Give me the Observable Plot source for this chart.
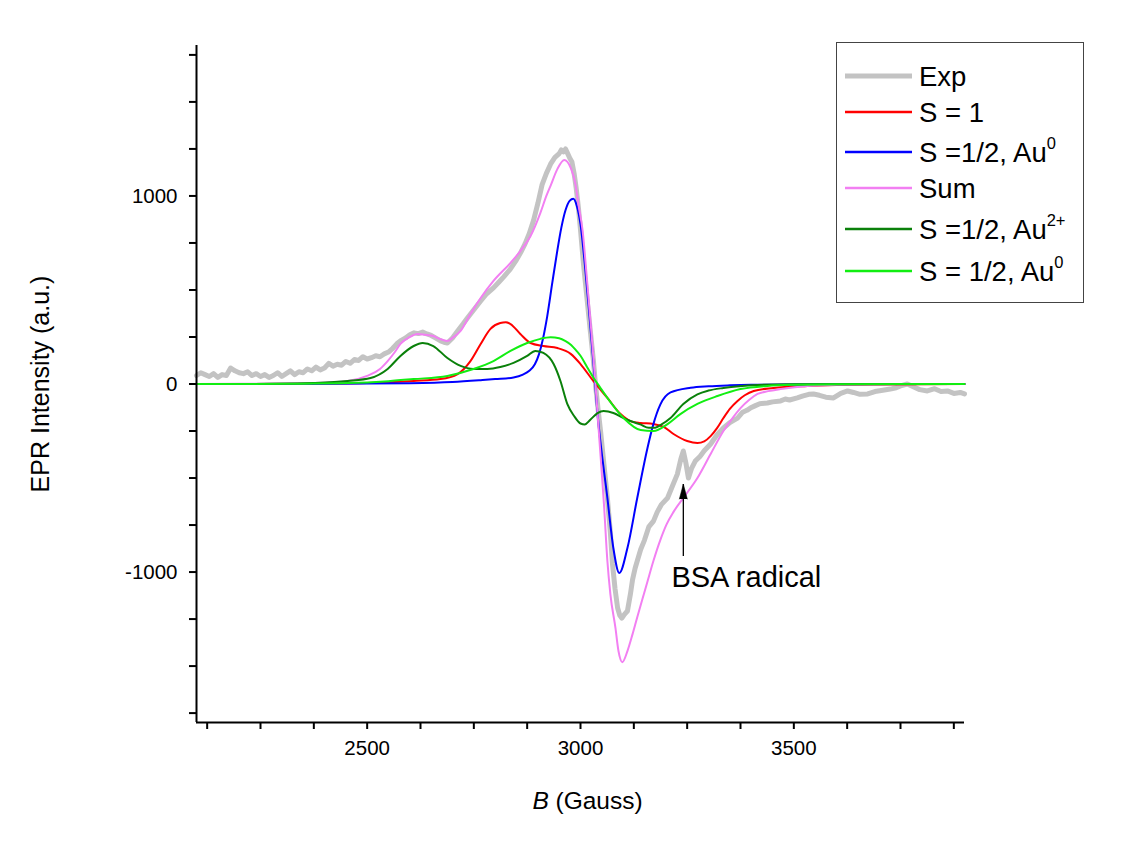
<!DOCTYPE html>
<html><head><meta charset="utf-8">
<script src="https://cdn.jsdelivr.net/npm/d3@7"></script>
<script src="https://cdn.jsdelivr.net/npm/@observablehq/plot@0.6"></script>
<style>
html,body{margin:0;padding:0;background:#fff;}
#wrap{position:relative;width:1123px;height:859px;font-family:"Liberation Sans",Arial,sans-serif;}
#wrap svg{display:block;}
#legend{position:absolute;left:0;top:0;pointer-events:none;}
</style></head><body><div id="wrap"></div>
<script>
// ---- data (field B in Gauss, EPR intensity in a.u.) ----
const expCurve = [[2100,45],[2110,60],[2120,50],[2130,40],[2140,55],[2150,35],[2160,50],[2170,45],[2180,85],[2190,70],[2200,60],[2210,55],[2220,65],[2230,45],[2240,55],[2250,40],[2260,50],[2270,35],[2280,45],[2290,60],[2300,40],[2310,55],[2320,70],[2330,50],[2340,65],[2350,60],[2360,80],[2370,70],[2380,90],[2390,75],[2400,85],[2410,110],[2420,95],[2430,105],[2440,100],[2450,120],[2460,110],[2470,130],[2480,125],[2490,145],[2500,133],[2510,140],[2520,150],[2530,145],[2540,160],[2550,170],[2560,190],[2570,215],[2580,232],[2590,245],[2600,262],[2610,272],[2620,268],[2630,276],[2640,266],[2650,258],[2660,245],[2672,229],[2680,222],[2688,218],[2700,245],[2712,282],[2725,320],[2735,351],[2750,395],[2766,441],[2780,480],[2796,511],[2810,545],[2820,570],[2835,610],[2850,660],[2860,700],[2870,745],[2880,800],[2890,870],[2900,960],[2910,1060],[2920,1120],[2930,1170],[2940,1205],[2950,1225],[2955,1245],[2960,1235],[2965,1250],[2970,1225],[2975,1200],[2980,1180],[2985,1120],[2990,1040],[2995,940],[3000,820],[3007,638],[3015,460],[3023,282],[3030,130],[3035,0],[3041,-130],[3047,-250],[3055,-430],[3063,-606],[3070,-790],[3075,-957],[3081,-1090],[3087,-1191],[3092,-1230],[3097,-1245],[3103,-1225],[3110,-1207],[3117,-1117],[3122,-1040],[3128,-980],[3133,-941],[3141,-880],[3150,-830],[3160,-760],[3171,-729],[3180,-680],[3190,-640],[3204,-606],[3215,-545],[3227,-479],[3235,-400],[3241,-356],[3247,-420],[3253,-500],[3260,-450],[3269,-410],[3280,-385],[3290,-355],[3305,-319],[3320,-270],[3335,-234],[3350,-205],[3368,-181],[3380,-150],[3390,-140],[3398,-128],[3410,-115],[3420,-105],[3438,-101],[3450,-95],[3469,-90],[3480,-80],[3490,-85],[3508,-74],[3520,-65],[3535,-55],[3546,-53],[3560,-60],[3575,-70],[3593,-74],[3610,-50],[3626,-37],[3640,-45],[3655,-55],[3673,-53],[3690,-40],[3705,-35],[3726,-27],[3740,-20],[3750,-10],[3766,0],[3780,-15],[3795,-30],[3813,-37],[3830,-25],[3845,-40],[3860,-37],[3875,-50],[3890,-45],[3900,-53]];

const s1Curve = [[2100,0],[2400,2],[2500,5],[2609,16],[2672,26],[2712,53],[2742,122],[2766,213],[2789,293],[2812,324],[2825,328],[2836,319],[2859,266],[2883,218],[2913,202],[2946,191],[2977,160],[3000,106],[3030,16],[3063,-74],[3094,-160],[3120,-200],[3141,-207],[3171,-213],[3195,-228],[3218,-266],[3250,-303],[3274,-314],[3290,-305],[3305,-277],[3320,-235],[3335,-181],[3350,-132],[3368,-90],[3385,-60],[3406,-37],[3452,-21],[3532,-10],[3600,-5],[3700,-2],[3900,0]];

const au0Curve = [[2100,0],[2400,1],[2600,4],[2700,10],[2766,20],[2800,26],[2843,35],[2865,50],[2880,70],[2893,105],[2903,160],[2912,240],[2922,360],[2934,540],[2945,700],[2955,830],[2965,925],[2975,975],[2983,985],[2991,950],[3000,850],[3010,640],[3020,390],[3030,120],[3040,-160],[3063,-606],[3077,-872],[3091,-1005],[3110,-872],[3133,-606],[3157,-340],[3170,-220],[3187,-110],[3211,-45],[3258,-20],[3300,-12],[3350,-7],[3400,-4],[3500,-2],[3600,-1],[3900,0]];

const sumCurve = [[2100,0],[2200,1],[2300,3],[2374,5],[2454,16],[2500,43],[2530,80],[2548,122],[2565,170],[2578,213],[2600,250],[2618,266],[2635,262],[2655,255],[2670,240],[2688,229],[2700,245],[2719,282],[2742,372],[2766,457],[2796,548],[2836,644],[2859,707],[2883,787],[2906,910],[2920,1000],[2930,1055],[2946,1144],[2962,1191],[2977,1149],[2988,1064],[2995,957],[3005,814],[3015,560],[3025,290],[3035,0],[3045,-320],[3055,-640],[3063,-941],[3070,-1117],[3082,-1298],[3089,-1420],[3098,-1479],[3110,-1420],[3122,-1330],[3133,-1240],[3145,-1145],[3157,-1050],[3171,-940],[3187,-830],[3202,-745],[3218,-680],[3241,-606],[3274,-500],[3305,-372],[3335,-250],[3355,-185],[3375,-128],[3395,-85],[3415,-53],[3440,-38],[3469,-27],[3532,-10],[3600,-4],[3700,-1],[3900,0]];

const au2Curve = [[2100,0],[2300,1],[2374,5],[2454,16],[2508,32],[2548,80],[2578,149],[2609,202],[2630,218],[2655,202],[2688,138],[2719,96],[2749,80],[2782,80],[2812,90],[2843,112],[2875,149],[2894,176],[2913,165],[2937,106],[2953,16],[2969,-106],[2985,-170],[3000,-210],[3010,-215],[3023,-190],[3040,-155],[3054,-144],[3077,-154],[3100,-180],[3117,-197],[3140,-215],[3160,-233],[3175,-232],[3190,-215],[3211,-181],[3241,-106],[3274,-55],[3300,-35],[3335,-21],[3415,-5],[3500,-1],[3900,0]];

const au0bCurve = [[2100,0],[2300,1],[2454,5],[2550,15],[2609,26],[2688,43],[2749,80],[2796,122],[2836,176],[2875,218],[2906,240],[2930,248],[2950,243],[2965,228],[2978,208],[2990,178],[3000,150],[3015,92],[3030,35],[3045,-15],[3063,-74],[3101,-181],[3141,-245],[3171,-250],[3204,-213],[3234,-160],[3274,-106],[3321,-64],[3375,-27],[3438,-10],[3500,-4],[3600,-1],[3900,0]];

const xTicks = d3.range(2125, 3900, 125);
const xTickLabels = [2500, 3000, 3500];
const yTicks = d3.range(-1750, 1751, 250);
const yTickLabels = [-1000, 0, 1000];

const annotation = {b: 3241, tail: -915, tip: -532, text: "BSA radical", textB: 3213, textI: -1032};

const series = [
  {name: "Exp", sup: "", data: expCurve, color: "#c3c3c3", width: 5},
  {name: "S = 1", sup: "", data: s1Curve, color: "#ff0000", width: 2},
  {name: "S =1/2, Au", sup: "0", data: au0Curve, color: "#0000ff", width: 2},
  {name: "Sum", sup: "", data: sumCurve, color: "#f27ff2", width: 2},
  {name: "S =1/2, Au", sup: "2+", data: au2Curve, color: "#0a800a", width: 2},
  {name: "S = 1/2, Au", sup: "0", data: au0bCurve, color: "#12ee12", width: 2}
];

const toRows = arr => arr.map(([b, v]) => ({b, v}));
const font = "Liberation Sans, Arial, sans-serif";

const lineMarks = series.map((s, i) => Plot.line(toRows(s.data), {
  x: "b", y: "v", stroke: s.color, strokeWidth: s.width,
  curve: i === 0 ? "linear" : "monotone-x", strokeLinejoin: "round"
}));

const plot = Plot.plot({
  width: 1123, height: 859,
  marginLeft: 196, marginRight: 159, marginTop: 45, marginBottom: 137,
  x: {domain: [2100, 3900]},
  y: {domain: [-1800, 1800]},
  style: {fontFamily: font, background: "white", color: "black", overflow: "visible"},
  marks: [
    ...lineMarks,
    Plot.axisX(xTicks, {tickSize: 7, strokeWidth: 2, tickPadding: 11, fontSize: 20.5, label: null,
      tickFormat: d => xTickLabels.includes(d) ? String(d) : ""}),
    Plot.axisY(yTicks, {tickSize: 7, strokeWidth: 2, tickPadding: 12, fontSize: 20.5, label: null,
      tickFormat: d => yTickLabels.includes(d) ? String(d) : ""}),
    Plot.ruleX([2100], {strokeWidth: 2}),
    Plot.ruleY([-1800], {strokeWidth: 2}),
    Plot.link([annotation], {x1: "b", x2: "b", y1: "tail", y2: "tip", stroke: "black", strokeWidth: 1.3}),
    Plot.vector([annotation], {x: "b", y: "tip", length: 15, r: 4, shape: "spike", anchor: "end", fill: "black", stroke: "black", strokeWidth: 0.5}),
    Plot.text([annotation], {x: "textB", y: "textI", text: "text", textAnchor: "start", lineAnchor: "middle", fontSize: 29, fill: "black"}),
    Plot.text(["EPR Intensity (a.u.)"], {frameAnchor: "left", textAnchor: "middle", lineAnchor: "middle", rotate: -90, dx: -156, fontSize: 25, fill: "black"}),
    Plot.text(["B"], {frameAnchor: "bottom", dx: -48, dy: 79, textAnchor: "start", lineAnchor: "middle", fontStyle: "italic", fontSize: 24.5, fill: "black"}),
    Plot.text(["(Gauss)"], {frameAnchor: "bottom", dx: -25, dy: 79, textAnchor: "start", lineAnchor: "middle", fontSize: 24.5, fill: "black"})
  ]
});

const wrap = document.getElementById("wrap");
wrap.appendChild(plot);

// ---- legend overlay ----
const rowY = [76, 112, 152, 188, 229, 271];
const lg = d3.select(wrap).append("svg").attr("id", "legend")
  .attr("width", 1123).attr("height", 859)
  .style("font-family", font);
lg.append("rect").attr("x", 836.5).attr("y", 42.5).attr("width", 247).attr("height", 260)
  .attr("fill", "white").attr("stroke", "#444").attr("stroke-width", 1);
series.forEach((s, i) => {
  const y = rowY[i];
  lg.append("line").attr("x1", 845).attr("x2", 912).attr("y1", y).attr("y2", y)
    .attr("stroke", s.color).attr("stroke-width", i === 0 ? 5 : 2.5);
  const t = lg.append("text").attr("x", 919).attr("y", y + 9.8).attr("font-size", 27.5).attr("fill", "black");
  t.append("tspan").text(s.name);
  if (s.sup) t.append("tspan").attr("font-size", 16.5).attr("dy", -12.5).text(s.sup);
});
</script></body></html>
